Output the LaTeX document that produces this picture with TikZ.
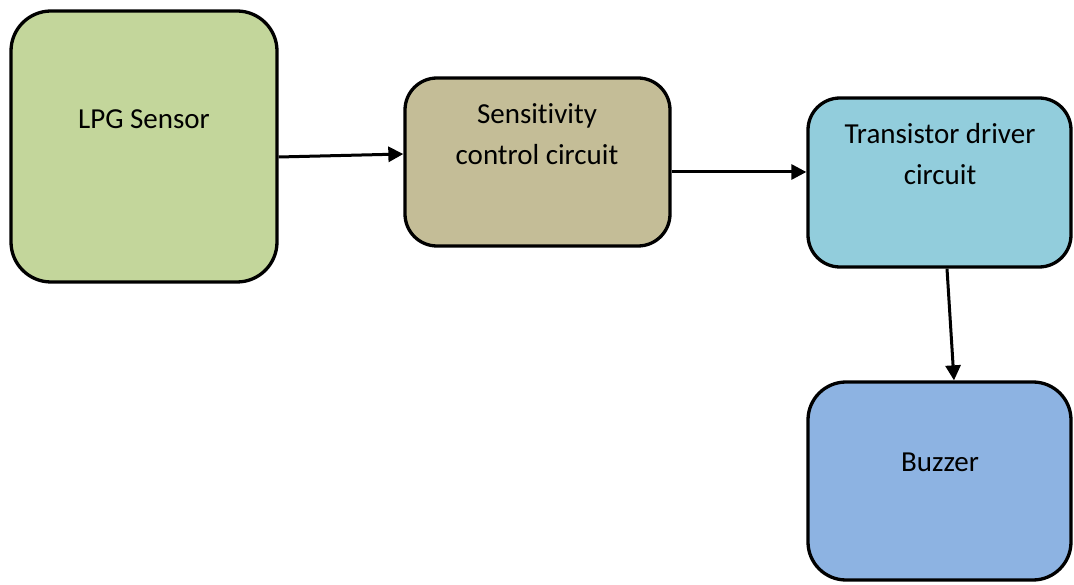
\documentclass[tikz,border=0pt]{standalone}
\usepackage{fontspec}
\setmainfont{Carlito}[Ligatures=NoCommon]
\usetikzlibrary{arrows.meta}
\definecolor{cgreen}{HTML}{C3D69B}
\definecolor{ctan}{HTML}{C4BD97}
\definecolor{ccyan}{HTML}{92CDDC}
\definecolor{cblue}{HTML}{8DB3E2}
\begin{document}
\begin{tikzpicture}[x=1pt,y=-1pt,
 box/.style={draw=black, line width=3.3pt, inner sep=0pt},
 lbl/.style={font=\fontsize{29}{41}\selectfont, align=center, text=black, inner sep=0pt},
 arr/.style={-{Triangle[length=15pt,width=15pt]}, line width=3pt}]
\useasboundingbox (0,0) rectangle (1074,585);
\node[box, fill=cgreen, rounded corners=40pt, minimum width=266pt, minimum height=271pt] (lpg) at (144,146.5) {};
\node[box, fill=ctan, rounded corners=32pt, minimum width=265pt, minimum height=168pt] (sens) at (537.5,162) {};
\node[box, fill=ccyan, rounded corners=32pt, minimum width=263pt, minimum height=169pt] (trans) at (939.5,182.5) {};
\node[box, fill=cblue, rounded corners=38pt, minimum width=263pt, minimum height=198pt] (buzz) at (939.5,481) {};
\node[lbl] (lpgt) at (144,119) {LPG Sensor};
\node[lbl] (senst) at (537,134.5) {Sensitivity\\control circuit};
\node[lbl] (transt) at (940,154.5) {Transistor driver\\circuit};
\node[lbl] (buzzt) at (940,462) {Buzzer};
\draw[arr] ([yshift=-10.5pt]lpg.east) -- ([yshift=8pt]sens.west);
\draw[arr] ([yshift=-10pt]sens.east) -- ([yshift=10.5pt]trans.west);
\draw[arr] ([xshift=7.5pt]trans.south) -- ([xshift=14.5pt]buzz.north);
\end{tikzpicture}
\end{document}
